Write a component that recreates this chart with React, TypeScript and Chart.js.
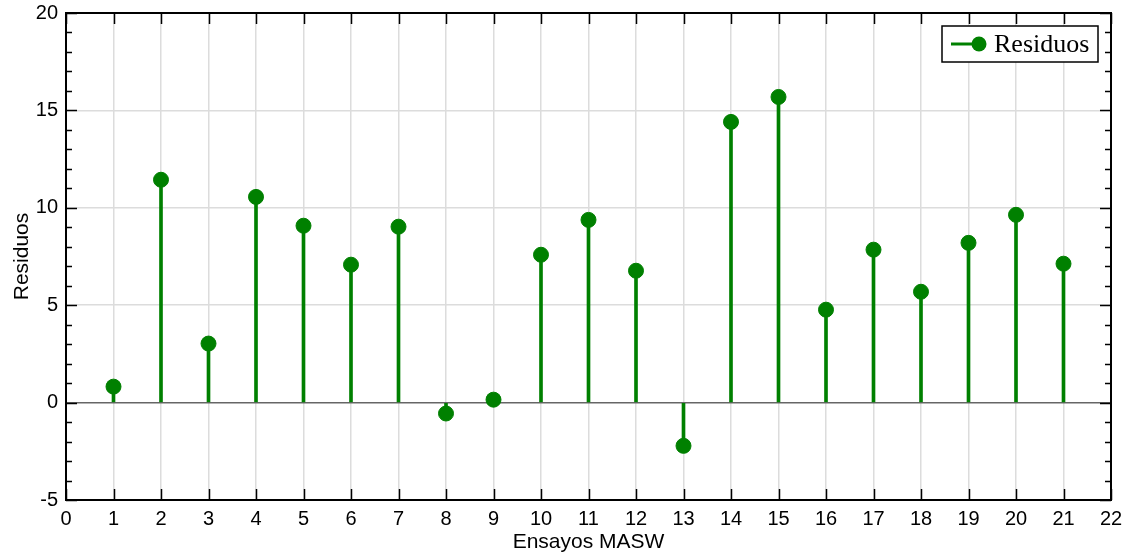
import React, { useEffect, useRef } from "react";
import { Chart, registerables } from "chart.js";

Chart.register(...registerables);

const trials: number[] = [1, 2, 3, 4, 5, 6, 7, 8, 9, 10, 11, 12, 13, 14, 15, 16, 17, 18, 19, 20, 21];
const residuals: number[] = [0.82, 11.44, 3.03, 10.56, 9.08, 7.08, 9.03, -0.56, 0.15, 7.59, 9.38, 6.77, -2.22, 14.41, 15.69, 4.77, 7.85, 5.69, 8.2, 9.64, 7.13];
const xTickValues: number[] = [0, 1, 2, 3, 4, 5, 6, 7, 8, 9, 10, 11, 12, 13, 14, 15, 16, 17, 18, 19, 20, 21, 22];
const yTickValues: number[] = [-5, 0, 5, 10, 15, 20];
const seriesLabel = "Residuos";
const xTitle = "Ensayos MASW";
const yTitle = "Residuos";

const GREEN = "#008000";

const boxPlugin = {
  id: "boxTicks",
  afterDatasetsDraw(chart: any) {
    const { ctx, chartArea, scales } = chart;
    const { left, right, top, bottom } = chartArea;
    const xs = scales.x;
    const ys = scales.y;
    ctx.save();
    ctx.strokeStyle = "#000";
    ctx.lineWidth = 1.5;
    xTickValues.forEach((v) => {
      const px = Math.round(xs.getPixelForValue(v)) + 0.5;
      ctx.beginPath();
      ctx.moveTo(px, bottom);
      ctx.lineTo(px, bottom - 11);
      ctx.moveTo(px, top);
      ctx.lineTo(px, top + 11);
      ctx.stroke();
    });
    for (let v = -5; v <= 20; v++) {
      const py = Math.round(ys.getPixelForValue(v)) + 0.5;
      const len = v % 5 === 0 ? 11 : 6;
      ctx.beginPath();
      ctx.moveTo(left, py);
      ctx.lineTo(left + len, py);
      ctx.moveTo(right, py);
      ctx.lineTo(right - len, py);
      ctx.stroke();
    }
    ctx.lineWidth = 2;
    ctx.strokeRect(left, top, right - left, bottom - top);
    ctx.restore();
  },
  afterDraw(chart: any) {
    const { ctx } = chart;
    const bx = 942, by = 26, bw = 156, bh = 36;
    ctx.save();
    ctx.fillStyle = "#fff";
    ctx.fillRect(bx, by, bw, bh);
    ctx.strokeStyle = "#000";
    ctx.lineWidth = 1.5;
    ctx.strokeRect(bx, by, bw, bh);
    ctx.strokeStyle = GREEN;
    ctx.lineWidth = 3;
    ctx.beginPath();
    ctx.moveTo(951, by + bh / 2);
    ctx.lineTo(980, by + bh / 2);
    ctx.stroke();
    ctx.fillStyle = GREEN;
    ctx.beginPath();
    ctx.arc(979, by + bh / 2, 7.5, 0, Math.PI * 2);
    ctx.fill();
    ctx.fillStyle = "#000";
    ctx.font = "26px 'Liberation Serif', 'Times New Roman', serif";
    ctx.textBaseline = "middle";
    ctx.textAlign = "left";
    ctx.fillText(seriesLabel, 994, by + bh / 2 + 1);
    ctx.restore();
  },
};

export default function App() {
  const ref = useRef<HTMLCanvasElement | null>(null);
  useEffect(() => {
    document.body.style.margin = "0";
    if (!ref.current) return;
    const chart = new Chart(ref.current, {
      type: "bar",
      data: {
        datasets: [
          {
            type: "bar",
            label: seriesLabel,
            data: trials.map((t, i) => ({ x: t, y: residuals[i] })),
            backgroundColor: GREEN,
            borderWidth: 0,
            barThickness: 3,
            order: 2,
          } as any,
          {
            type: "scatter",
            label: seriesLabel + " pts",
            data: trials.map((t, i) => ({ x: t, y: residuals[i] })),
            backgroundColor: GREEN,
            borderColor: GREEN,
            pointRadius: 7.5,
            pointHoverRadius: 7.5,
            order: 1,
          } as any,
        ],
      },
      options: {
        animation: false,
        responsive: false,
        maintainAspectRatio: false,
        layout: { padding: { top: 13, right: 15, left: 0, bottom: 0 } },
        plugins: { legend: { display: false }, tooltip: { enabled: false } },
        scales: {
          x: {
            type: "linear",
            min: 0,
            max: 22,
            offset: false,
            afterBuildTicks: (s: any) => {
              s.ticks = xTickValues.map((v) => ({ value: v }));
            },
            afterFit: (s: any) => {
              s.height = 55;
              s.paddingLeft = 0;
              s.paddingRight = 0;
            },
            grid: {
              offset: false,
              drawTicks: false,
              color: (c: any) => (c.tick && (c.tick.value === 0 || c.tick.value === 22) ? "rgba(0,0,0,0)" : "#dcdcdc"),
              lineWidth: 1.5,
            },
            border: { display: false },
            ticks: {
              padding: 7,
              color: "#000",
              font: { family: "'Liberation Sans', Arial, sans-serif", size: 20 },
              maxRotation: 0,
              autoSkip: false,
            },
            title: {
              display: true,
              text: xTitle,
              color: "#000",
              font: { family: "'Liberation Sans', Arial, sans-serif", size: 21, lineHeight: 1.0 },
              padding: { top: 0, bottom: 2 },
            },
          },
          y: {
            type: "linear",
            min: -5,
            max: 20,
            afterBuildTicks: (s: any) => {
              s.ticks = yTickValues.map((v) => ({ value: v }));
            },
            afterFit: (s: any) => {
              s.width = 66;
              s.paddingTop = 0;
              s.paddingBottom = 0;
            },
            grid: {
              drawTicks: false,
              color: (c: any) => {
                const v = c.tick ? c.tick.value : null;
                if (v === 0) return "#666666";
                if (v === -5 || v === 20) return "rgba(0,0,0,0)";
                return "#dcdcdc";
              },
              lineWidth: 1.5,
            },
            border: { display: false },
            ticks: {
              padding: 8,
              color: "#000",
              font: { family: "'Liberation Sans', Arial, sans-serif", size: 20 },
            },
            title: {
              display: true,
              text: yTitle,
              color: "#000",
              font: { family: "'Liberation Sans', Arial, sans-serif", size: 21 },
              padding: { top: 10, bottom: 0 },
            },
          },
        },
      },
      plugins: [boxPlugin],
    });
    return () => chart.destroy();
  }, []);
  return (
    <div style={{ width: 1126, height: 555 }}>
      <canvas ref={ref} width={1126} height={555} style={{ display: "block" }} />
    </div>
  );
}
